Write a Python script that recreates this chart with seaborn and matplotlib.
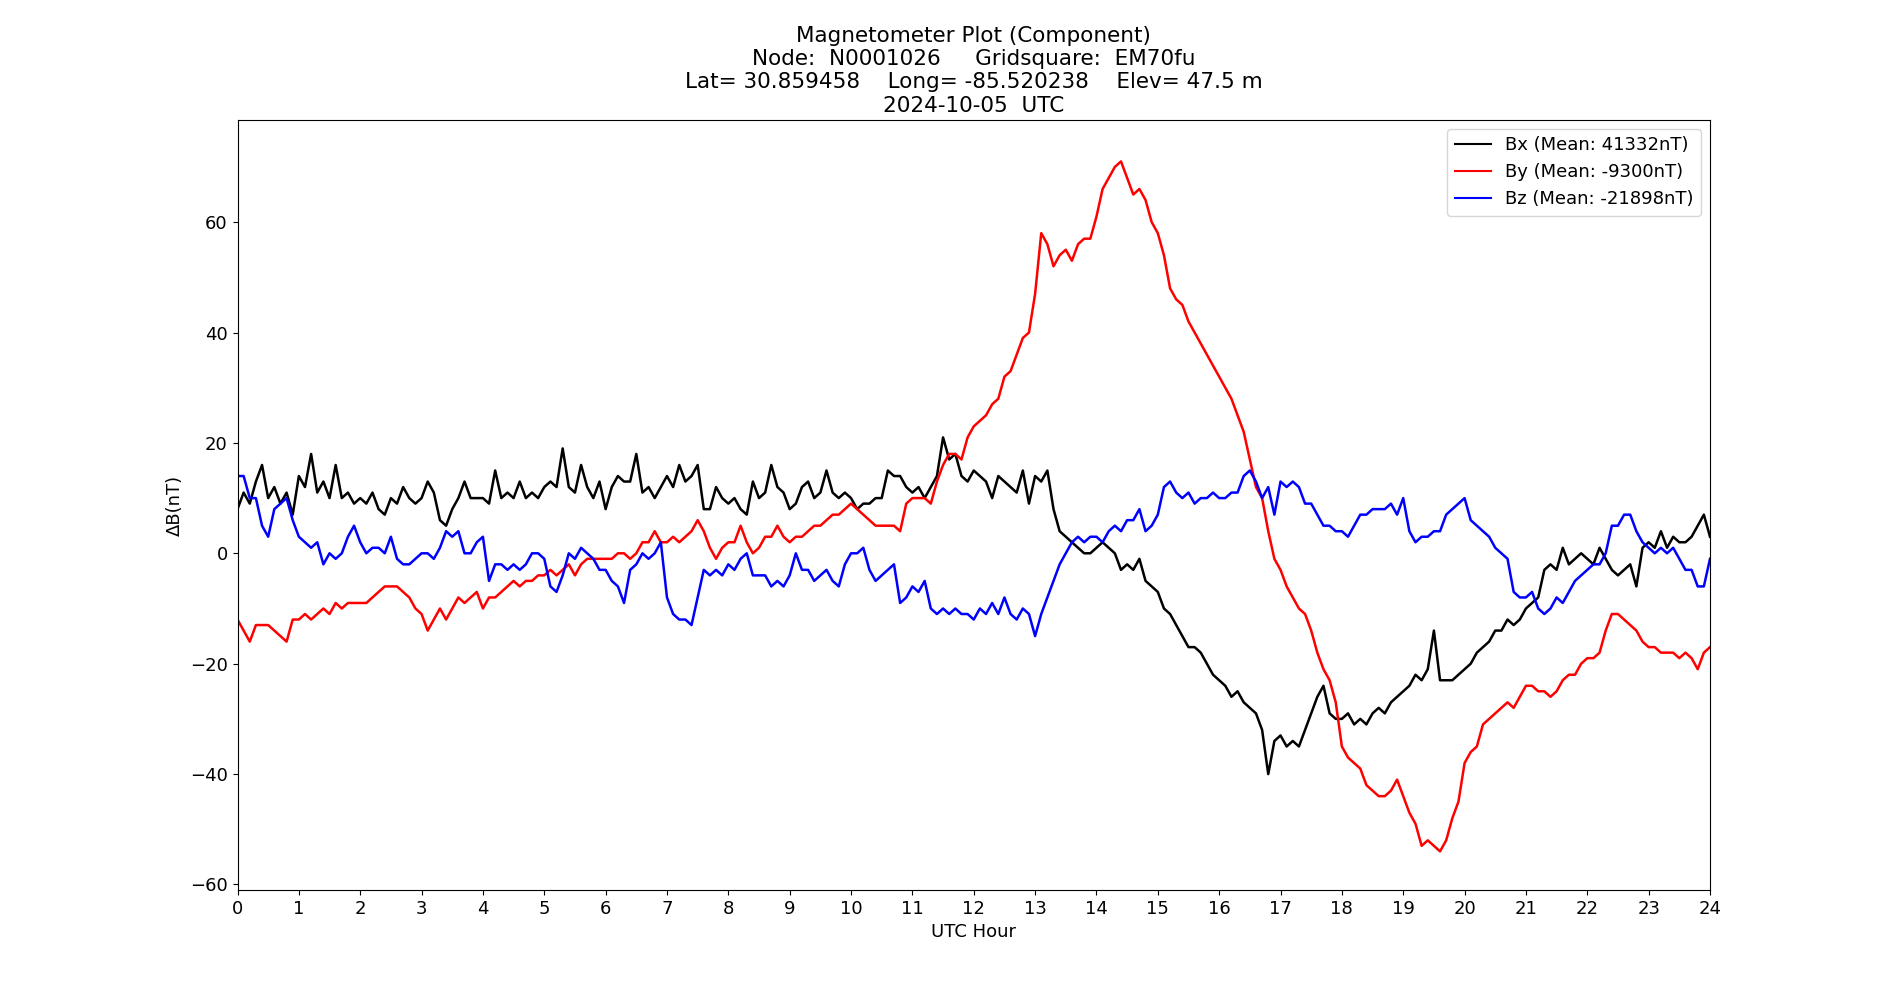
import numpy as np
import pandas as pd
import matplotlib
matplotlib.use("Agg")
import matplotlib.pyplot as plt
import seaborn as sns

# 读取的数据：每0.1小时一个点
hours = np.round(np.arange(241) * 0.1, 1)

bx = [8, 11, 9, 13, 16, 10, 12, 9, 11, 7,
      14, 12, 18, 11, 13, 10, 16, 10, 11, 9,
      10, 9, 11, 8, 7, 10, 9, 12, 10, 9,
      10, 13, 11, 6, 5, 8, 10, 13, 10, 10,
      10, 9, 15, 10, 11, 10, 13, 10, 11, 10,
      12, 13, 12, 19, 12, 11, 16, 12, 10, 13,
      8, 12, 14, 13, 13, 18, 11, 12, 10, 12,
      14, 12, 16, 13, 14, 16, 8, 8, 12, 10,
      9, 10, 8, 7, 13, 10, 11, 16, 12, 11,
      8, 9, 12, 13, 10, 11, 15, 11, 10, 11,
      10, 8, 9, 9, 10, 10, 15, 14, 14, 12,
      11, 12, 10, 12, 14, 21, 17, 18, 14, 13,
      15, 14, 13, 10, 14, 13, 12, 11, 15, 9,
      14, 13, 15, 8, 4, 3, 2, 1, 0, 0,
      1, 2, 1, 0, -3, -2, -3, -1, -5, -6,
      -7, -10, -11, -13, -15, -17, -17, -18, -20, -22,
      -23, -24, -26, -25, -27, -28, -29, -32, -40, -34,
      -33, -35, -34, -35, -32, -29, -26, -24, -29, -30,
      -30, -29, -31, -30, -31, -29, -28, -29, -27, -26,
      -25, -24, -22, -23, -21, -14, -23, -23, -23, -22,
      -21, -20, -18, -17, -16, -14, -14, -12, -13, -12,
      -10, -9, -8, -3, -2, -3, 1, -2, -1, 0,
      -1, -2, 1, -1, -3, -4, -3, -2, -6, 1,
      2, 1, 4, 1, 3, 2, 2, 3, 5, 7,
      3]

by = [-12, -14, -16, -13, -13, -13, -14, -15, -16, -12,
      -12, -11, -12, -11, -10, -11, -9, -10, -9, -9,
      -9, -9, -8, -7, -6, -6, -6, -7, -8, -10,
      -11, -14, -12, -10, -12, -10, -8, -9, -8, -7,
      -10, -8, -8, -7, -6, -5, -6, -5, -5, -4,
      -4, -3, -4, -3, -2, -4, -2, -1, -1, -1,
      -1, -1, 0, 0, -1, 0, 2, 2, 4, 2,
      2, 3, 2, 3, 4, 6, 4, 1, -1, 1,
      2, 2, 5, 2, 0, 1, 3, 3, 5, 3,
      2, 3, 3, 4, 5, 5, 6, 7, 7, 8,
      9, 8, 7, 6, 5, 5, 5, 5, 4, 9,
      10, 10, 10, 9, 13, 16, 18, 18, 17, 21,
      23, 24, 25, 27, 28, 32, 33, 36, 39, 40,
      47, 58, 56, 52, 54, 55, 53, 56, 57, 57,
      61, 66, 68, 70, 71, 68, 65, 66, 64, 60,
      58, 54, 48, 46, 45, 42, 40, 38, 36, 34,
      32, 30, 28, 25, 22, 17, 12, 10, 4, -1,
      -3, -6, -8, -10, -11, -14, -18, -21, -23, -27,
      -35, -37, -38, -39, -42, -43, -44, -44, -43, -41,
      -44, -47, -49, -53, -52, -53, -54, -52, -48, -45,
      -38, -36, -35, -31, -30, -29, -28, -27, -28, -26,
      -24, -24, -25, -25, -26, -25, -23, -22, -22, -20,
      -19, -19, -18, -14, -11, -11, -12, -13, -14, -16,
      -17, -17, -18, -18, -18, -19, -18, -19, -21, -18,
      -17]

bz = [14, 14, 10, 10, 5, 3, 8, 9, 10, 6,
      3, 2, 1, 2, -2, 0, -1, 0, 3, 5,
      2, 0, 1, 1, 0, 3, -1, -2, -2, -1,
      0, 0, -1, 1, 4, 3, 4, 0, 0, 2,
      3, -5, -2, -2, -3, -2, -3, -2, 0, 0,
      -1, -6, -7, -4, 0, -1, 1, 0, -1, -3,
      -3, -5, -6, -9, -3, -2, 0, -1, 0, 2,
      -8, -11, -12, -12, -13, -8, -3, -4, -3, -4,
      -2, -3, -1, 0, -4, -4, -4, -6, -5, -6,
      -4, 0, -3, -3, -5, -4, -3, -5, -6, -2,
      0, 0, 1, -3, -5, -4, -3, -2, -9, -8,
      -6, -7, -5, -10, -11, -10, -11, -10, -11, -11,
      -12, -10, -11, -9, -11, -8, -11, -12, -10, -11,
      -15, -11, -8, -5, -2, 0, 2, 3, 2, 3,
      3, 2, 4, 5, 4, 6, 6, 8, 4, 5,
      7, 12, 13, 11, 10, 11, 9, 10, 10, 11,
      10, 10, 11, 11, 14, 15, 13, 10, 12, 7,
      13, 12, 13, 12, 9, 9, 7, 5, 5, 4,
      4, 3, 5, 7, 7, 8, 8, 8, 9, 7,
      10, 4, 2, 3, 3, 4, 4, 7, 8, 9,
      10, 6, 5, 4, 3, 1, 0, -1, -7, -8,
      -8, -7, -10, -11, -10, -8, -9, -7, -5, -4,
      -3, -2, -2, 0, 5, 5, 7, 7, 4, 2,
      1, 0, 1, 0, 1, -1, -3, -3, -6, -6,
      -1]

labels = ['Bx (Mean: 41332nT)', 'By (Mean: -9300nT)', 'Bz (Mean: -21898nT)']
colors = ['black', 'red', 'blue']

df = pd.concat([
    pd.DataFrame({'hour': hours, 'dB': bx, 'comp': labels[0]}),
    pd.DataFrame({'hour': hours, 'dB': by, 'comp': labels[1]}),
    pd.DataFrame({'hour': hours, 'dB': bz, 'comp': labels[2]}),
])

#   -- plot --
fig = plt.figure(figsize=(19, 10), dpi=100)
ax = plt.subplot(111)

sns.lineplot(data=df, x='hour', y='dB', hue='comp', palette=colors,
             linewidth=1.8, ax=ax)

ax.set_xlim(0, 24)
ax.set_ylim(-61, 78.5)
ax.set_xticks(range(0, 25))
ax.tick_params(labelsize=13)
ax.set_xlabel('UTC Hour', fontsize=13)
ax.set_ylabel('ΔB(nT)', fontsize=13)
ax.set_title('Magnetometer Plot (Component)\n'
             'Node:  N0001026     Gridsquare:  EM70fu\n'
             'Lat= 30.859458    Long= -85.520238    Elev= 47.5 m\n'
             '2024-10-05  UTC', fontsize=15.5)
leg = ax.legend(loc='upper right', fontsize=13, title=None)
for line in leg.get_lines():
    line.set_linewidth(1.5)

plt.savefig('out.png', dpi=100)
